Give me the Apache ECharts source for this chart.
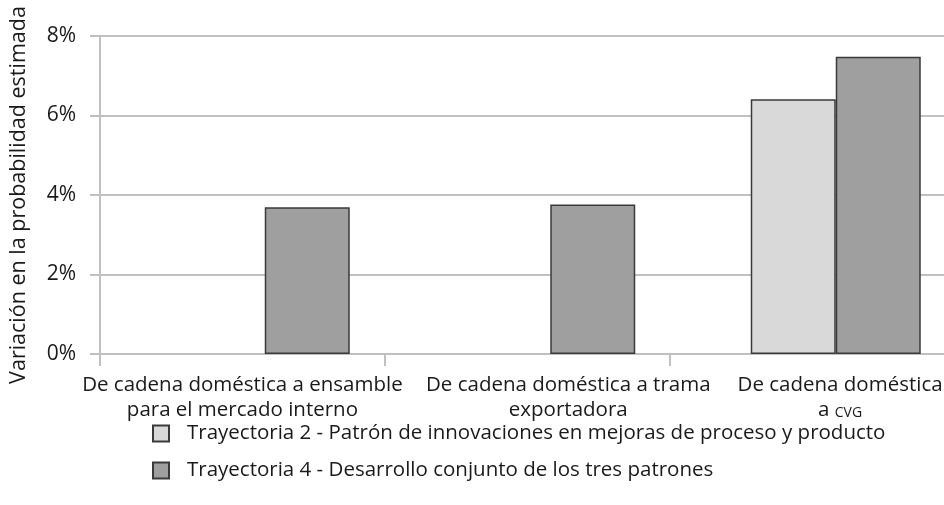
<!DOCTYPE html>
<html>
<head>
<meta charset="utf-8">
<script src="https://cdn.jsdelivr.net/npm/echarts@6/dist/echarts.min.js"></script>
<style>html,body{margin:0;padding:0;background:#fff;overflow:hidden}#c{width:980px;height:505px}</style>
</head>
<body>
<div id="c"></div>
<script>
var categories = ['De cadena doméstica a ensamble\npara el mercado interno', 'De cadena doméstica a trama\nexportadora', 'De cadena doméstica\na CVG'];
var seriesNames = ['Trayectoria 2 - Patrón de innovaciones en mejoras de proceso y producto', 'Trayectoria 4 - Desarrollo conjunto de los tres patrones'];
var trayectoria2 = [null, null, 6.41];
var trayectoria4 = [3.69, 3.76, 7.48];
var yTicks = [0, 2, 4, 6, 8];
var yAxisName = 'Variación en la probabilidad estimada';

var FONT = '"Open Sans", "Noto Sans", sans-serif';
var FS = 20.5;
var GRID_GRAY = '#c0c0c0';
var TXT = '#1a1a1a';
var chart = echarts.init(document.getElementById('c'));

function labelFmt(value, idx) {
  var lines = value.split('\n');
  var st = 't' + idx;
  return lines.map(function (ln) {
    if (ln === 'a CVG') return '{' + st + '|a }{s|CVG}';
    return '{' + st + '|' + ln + '}';
  }).join('\n');
}

var option = {
  animation: false,
  textStyle: { fontFamily: FONT },
  grid: [
    { left: 98, top: 36, bottom: 151, width: 856.5 },
    { left: 122, top: 36, bottom: 151, width: 856.5 }
  ],
  legend: {
    orient: 'vertical',
    left: 147,
    top: 418,
    itemWidth: 16,
    itemHeight: 16,
    itemGap: 16,
    icon: 'rect',
    textStyle: { fontFamily: FONT, fontSize: FS, color: TXT, padding: [0, 0, 0, 13] },
    data: seriesNames
  },
  xAxis: [
    {
      type: 'category', gridIndex: 0, data: categories,
      axisLine: { lineStyle: { color: GRID_GRAY, width: 2 } },
      axisTick: { show: true, length: 12, lineStyle: { color: GRID_GRAY, width: 2 } },
      axisLabel: {
        interval: 0, margin: 19, color: TXT, fontFamily: FONT, fontSize: FS, lineHeight: 25,
        formatter: labelFmt,
        rich: {
          t0: { fontFamily: FONT, fontSize: FS, lineHeight: 25, color: TXT, align: 'center' },
          t1: { fontFamily: FONT, fontSize: FS, lineHeight: 25, color: TXT, align: 'center', padding: [0, 0, 0, 82] },
          t2: { fontFamily: FONT, fontSize: FS, lineHeight: 25, color: TXT, align: 'center', padding: [0, 0, 0, 56] },
          s: { fontFamily: FONT, fontSize: 14, lineHeight: 25, color: TXT, align: 'center', verticalAlign: 'bottom', padding: [0, 0, 3, 0] }
        }
      },
      splitLine: { show: false }
    },
    {
      type: 'category', gridIndex: 1, data: categories,
      show: false
    }
  ],
  yAxis: [
    {
      type: 'value', gridIndex: 0, min: 0, max: 8, interval: 2,
      name: yAxisName, nameLocation: 'middle', nameGap: 70, nameRotate: 90,
      nameTextStyle: { fontFamily: FONT, fontSize: 21.5, color: TXT },
      axisLine: { show: true, lineStyle: { color: GRID_GRAY, width: 2 } },
      axisTick: { show: true, length: 10, lineStyle: { color: GRID_GRAY, width: 2 } },
      axisLabel: { margin: 24, color: TXT, fontFamily: FONT, fontSize: 21, formatter: '{value}%' },
      splitLine: { show: true, lineStyle: { color: GRID_GRAY, width: 2 } }
    },
    {
      type: 'value', gridIndex: 1, min: 0, max: 8, interval: 2, show: false,
      splitLine: { show: false }
    }
  ],
  series: [
    {
      name: seriesNames[0], type: 'bar', xAxisIndex: 1, yAxisIndex: 1,
      data: trayectoria2, barWidth: 85, barGap: '0%',
      itemStyle: { color: '#d9d9d9', borderColor: '#3a3a3a', borderWidth: 1.5 }
    },
    {
      name: seriesNames[1], type: 'bar', xAxisIndex: 1, yAxisIndex: 1,
      data: trayectoria4, barWidth: 85, barGap: '0%',
      itemStyle: { color: '#9f9f9f', borderColor: '#3a3a3a', borderWidth: 1.5 }
    }
  ]
};
chart.setOption(option);
</script>
</body>
</html>
